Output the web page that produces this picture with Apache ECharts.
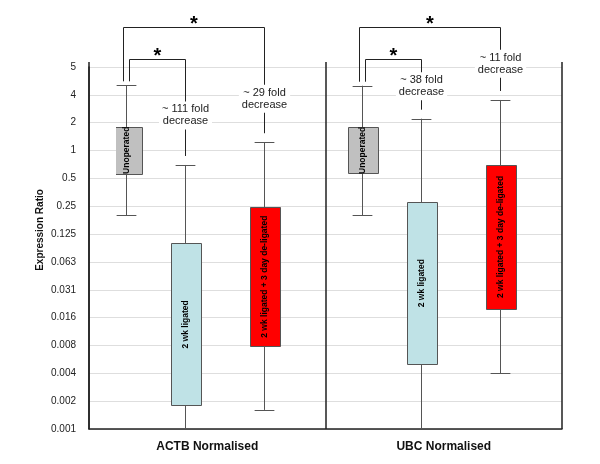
<!DOCTYPE html>
<html><head><meta charset="utf-8">
<script src="https://cdn.jsdelivr.net/npm/echarts@6/dist/echarts.min.js"></script>
<style>html,body{margin:0;padding:0;background:#fff}#c{width:600px;height:464px}</style>
</head><body><div id="c"></div>
<script>
// ---------------- data ----------------
const groups = ['ACTB Normalised', 'UBC Normalised'];
const conditions = ['Unoperated', '2 wk ligated', '2 wk ligated + 3 day de-ligated'];
const tickLabels = ['0.001','0.002','0.004','0.008','0.016','0.031','0.063','0.125','0.25','0.5','1','2','4','5'];
// box order: ACTB (Unoperated, 2 wk, 2 wk + 3 d), UBC (Unoperated, 2 wk, 2 wk + 3 d)
const whiskerLow  = [0.20, 0.0005, 0.00157, 0.20, 0.0005, 0.0039];
const boxLow      = [0.563, 0.00176, 0.0077, 0.563, 0.0049, 0.0194];
const boxHigh     = [1.80, 0.099, 0.243, 1.79, 0.276, 0.698];
const whiskerHigh = [5.07, 0.698, 1.23, 5.02, 2.21, 3.52];
// fold decrease vs Unoperated: [group, condition, fold]
const comparisonGroup = [0, 0, 1, 1];
const comparisonCond  = [1, 2, 1, 2];
const foldDecrease    = [111, 29, 38, 11];

// ---------------- layout / style ----------------
const SLOT = [0, 3, 7, 12, 15, 19];   // slot of each box on the hidden box axis
const NSLOT = 24;
const fills = ['#c0c0c0', '#bfe2e6', '#ff0000'];
const FONT = '"Liberation Sans", Arial, Helvetica, sans-serif';

const chart = echarts.init(document.getElementById('c'), null, {renderer: 'canvas'});

const boxData = SLOT.map((s, i) => [s, whiskerLow[i], boxLow[i], boxHigh[i], whiskerHigh[i], i % 3]);

function renderItem(params, api) {
  const x = api.value(0);
  const lo = api.coord([x, api.value(1)]);
  const q1 = api.coord([x, api.value(2)]);
  const q3 = api.coord([x, api.value(3)]);
  const hi = api.coord([x, api.value(4)]);
  const cond = api.value(5);
  const bw = api.size([1, 0])[0] * 1.5;
  const cap = bw * 0.67;
  const cx = Math.round(q1[0]) + 0.5;
  const ln = {stroke: '#555', lineWidth: 1};
  return {
    type: 'group',
    children: [
      {type: 'line', shape: {x1: cx, y1: hi[1], x2: cx, y2: q3[1]}, style: ln},
      {type: 'line', shape: {x1: cx, y1: q1[1], x2: cx, y2: lo[1]}, style: ln},
      {type: 'line', shape: {x1: cx - cap / 2, y1: Math.round(hi[1]) + 0.5, x2: cx + cap / 2, y2: Math.round(hi[1]) + 0.5}, style: ln},
      {type: 'line', shape: {x1: cx - cap / 2, y1: Math.round(lo[1]) + 0.5, x2: cx + cap / 2, y2: Math.round(lo[1]) + 0.5}, style: ln},
      {type: 'rect', shape: {x: Math.round(cx - bw / 2) + 0.5, y: Math.round(q3[1]) + 0.5, width: Math.round(bw), height: Math.round(q1[1] - q3[1])},
        style: {fill: fills[cond], stroke: '#555', lineWidth: 1}},
      {type: 'text', x: cx, y: (q1[1] + q3[1]) / 2, rotation: Math.PI / 2,
        style: {text: conditions[cond], align: 'center', verticalAlign: 'middle', fill: '#000',
          font: 'bold 8.5px ' + FONT}}
    ]
  };
}

const option = {
  backgroundColor: '#fff',
  animation: false,
  grid: [
    {left: 89, right: 38, top: 67, bottom: 35},
    {left: 116.3, right: 11.6, top: 67, bottom: 35}
  ],
  xAxis: [
    {type: 'category', gridIndex: 0, data: groups, boundaryGap: true,
      axisLine: {show: true, lineStyle: {color: '#222', width: 1.5}},
      axisTick: {show: true, inside: true, length: 367, alignWithLabel: false, lineStyle: {color: '#222', width: 1.5}},
      axisLabel: {margin: 12, fontWeight: 'bold', fontSize: 12, color: '#111', fontFamily: FONT},
      splitLine: {show: false}},
    {type: 'category', gridIndex: 1, data: Array.from({length: NSLOT}, (_, i) => String(i)), boundaryGap: true,
      show: false}
  ],
  yAxis: [
    {type: 'log', logBase: 2, gridIndex: 0, min: Math.pow(2, -10), max: 8, splitNumber: 13, interval: 1,
      axisLine: {show: true, lineStyle: {color: '#222', width: 1.5}},
      axisTick: {show: false},
      axisLabel: {margin: 13, fontSize: 10, color: '#222', fontFamily: FONT, showMinLabel: true, showMaxLabel: true,
        formatter: v => tickLabels[Math.round(Math.log2(v)) + 10] || ''},
      splitLine: {show: true, lineStyle: {color: '#dedede', width: 1}},
      name: 'Expression Ratio', nameLocation: 'middle', nameGap: 44, nameMoveOverlap: false,
      nameTextStyle: {fontWeight: 'bold', fontSize: 10, color: '#111', fontFamily: FONT, padding: [0, 0, 0, 36]}},
    {type: 'log', logBase: 2, gridIndex: 1, min: Math.pow(2, -10), max: 8, splitNumber: 13, interval: 1, show: false,
      splitLine: {show: false}}
  ],
  series: [{
    type: 'custom', xAxisIndex: 1, yAxisIndex: 1, clip: true,
    renderItem: renderItem, data: boxData, z: 5
  }]
};
chart.setOption(option);

// ---------------- significance brackets ----------------
const px = i => chart.convertToPixel({xAxisIndex: 1}, SLOT[i]);
const py = v => chart.convertToPixel({yAxisIndex: 1}, v);
const levelY = [59, 27];
const labelFrac = [0.53, 0.62, 0.45, 0.5];
const elements = [];
foldDecrease.forEach((fold, k) => {
  const g = comparisonGroup[k], c = comparisonCond[k];
  const ref = g * 3, tgt = g * 3 + c;
  const top = levelY[c - 1] + 0.5;
  const lx = Math.round(px(ref) + (c === 1 ? 3 : -3)) + 0.5;
  const rx = Math.round(px(tgt)) + 0.5;
  const lBottom = py(whiskerHigh[ref]) - 4;
  const rCap = py(whiskerHigh[tgt]);
  const rBottom = rCap - 9;
  elements.push({type: 'polyline', z: 10,
    shape: {points: [[lx, lBottom], [lx, top], [rx, top], [rx, rBottom]]},
    style: {stroke: '#222', lineWidth: 1, fill: null}});
  elements.push({type: 'text', z: 11, x: rx, y: top + labelFrac[k] * (rCap - top),
    style: {text: '~ ' + fold + ' fold\ndecrease', align: 'center', verticalAlign: 'middle',
      font: '11px ' + FONT, fill: '#222', lineHeight: 12, backgroundColor: '#fff', padding: [2, 3]}});
  elements.push({type: 'text', z: 11, x: (lx + rx) / 2, y: top - 3,
    style: {text: '*', align: 'center', verticalAlign: 'middle', font: 'bold 20px ' + FONT, fill: '#000'}});
});
chart.setOption({graphic: {elements: elements}});
</script>
</body></html>
